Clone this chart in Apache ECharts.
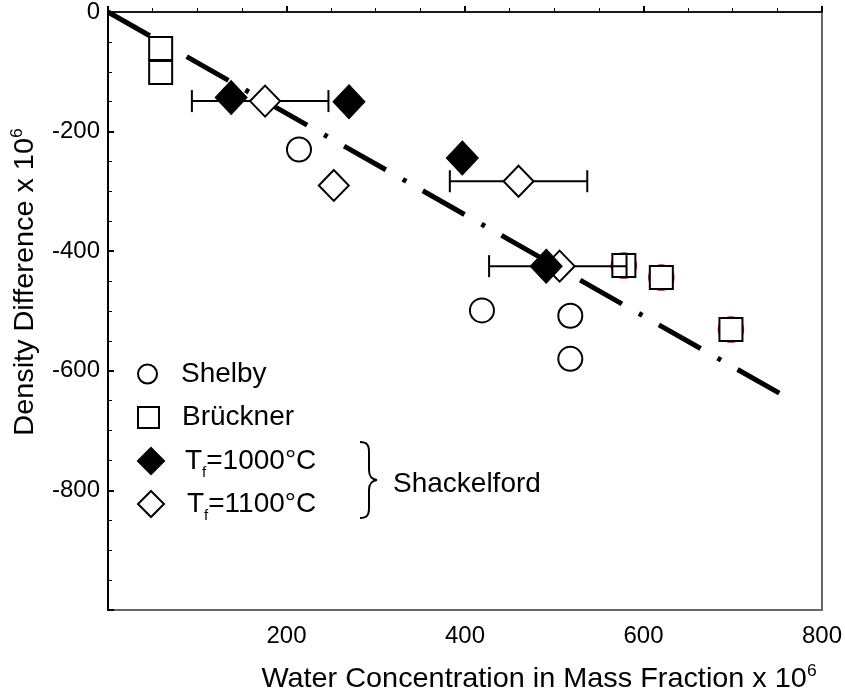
<!DOCTYPE html>
<html>
<head>
<meta charset="utf-8">
<script src="https://cdn.jsdelivr.net/npm/echarts@6/dist/echarts.min.js"></script>
<style>
  html, body { margin: 0; padding: 0; background: #fff; }
  #chart { width: 845px; height: 698px; }
</style>
</head>
<body>
<div id="chart"></div>
<script>
// data
const trendX = [0, 767];
const trendY = [0, -650];

const shelbyX = [214, 419, 518, 518];
const shelbyY = [-230, -499, -508, -580];

const brucknerX = [59, 59, 578, 620, 698];
const brucknerY = [-61, -101, -424, -444, -531];

// faint red circles showing behind three of the squares
const redX = [578, 620, 698];
const redY = [-424, -444, -531];

const tf1000X = [138, 270, 397, 491];
const tf1000Y = [-143, -150, -244, -425];

const tf1100X = [176, 253, 460, 506];
const tf1100Y = [-149, -290, -283, -425];

// horizontal error bars on the Tf=1100 points
const errY = [-149, -283, -425];
const errLow = [94, 383, 427];
const errHigh = [247, 537, 581];

const xTicks = [0, 800, 200];
const yTicks = [-1000, 0, 200];

const FONT = "Arial, 'Liberation Sans', Helvetica, sans-serif";

function zip(xs, ys) {
  return xs.map((x, i) => [x, ys[i]]);
}

const chart = echarts.init(document.getElementById("chart"));

const subRich = {
  sub: { fontSize: 15, fontFamily: FONT, color: "#000", verticalAlign: "bottom", lineHeight: 15, padding: [0, 0, -5, 0] },
};

function legendItem(name, left, top, size, pad) {
  return {
    data: [name],
    orient: "vertical",
    left: left,
    top: top,
    itemWidth: size,
    itemHeight: size,
    padding: 0,
    selectedMode: false,
    formatter: name.startsWith("T_f")
      ? (n) => "T{sub|f}" + n.slice(3)
      : (n) => n,
    textStyle: {
      fontSize: 28,
      fontFamily: FONT,
      color: "#000",
      padding: [0, 0, 0, pad],
      rich: subRich,
    },
  };
}

// curly brace next to the Shackelford entries
const braceStyle = { fill: null, stroke: "#000", lineWidth: 2 };
const brace = [
  { type: "bezierCurve", shape: { x1: 360, y1: 442, cpx1: 367, cpy1: 442, cpx2: 369, cpy2: 445, x2: 369, y2: 452 }, style: braceStyle },
  { type: "line", shape: { x1: 369, y1: 452, x2: 369, y2: 470 }, style: braceStyle },
  { type: "bezierCurve", shape: { x1: 369, y1: 470, cpx1: 369, cpy1: 476, cpx2: 371, cpy2: 479, x2: 377, y2: 480 }, style: braceStyle },
  { type: "bezierCurve", shape: { x1: 377, y1: 480, cpx1: 371, cpy1: 481, cpx2: 369, cpy2: 484, x2: 369, y2: 490 }, style: braceStyle },
  { type: "line", shape: { x1: 369, y1: 490, x2: 369, y2: 508 }, style: braceStyle },
  { type: "bezierCurve", shape: { x1: 369, y1: 508, cpx1: 369, cpy1: 515, cpx2: 367, cpy2: 518, x2: 360, y2: 518 }, style: braceStyle },
];

const titleRich = {
  a: { fontSize: 28, fontFamily: FONT, fill: "#000" },
  s: { fontSize: 17, fontFamily: FONT, fill: "#000", verticalAlign: "top", padding: [0, 0, 16, 0] },
};

const option = {
  animation: false,
  backgroundColor: "#fff",
  grid: {
    left: 108,
    top: 7,
    right: 19,
    bottom: 88,
    show: true,
    borderColor: "#666",
    borderWidth: 2,
  },
  xAxis: {
    type: "value",
    min: xTicks[0],
    max: xTicks[1],
    interval: xTicks[2],
    axisLine: { lineStyle: { color: "#000", width: 1.5 } },
    axisTick: { inside: true, length: 6, lineStyle: { color: "#000", width: 2 } },
    minorTick: { show: true, splitNumber: 4, length: 4, lineStyle: { color: "#000", width: 1 } },
    axisLabel: { showMinLabel: false, margin: 14, fontSize: 24, fontFamily: FONT, color: "#000" },
    splitLine: { show: false },
  },
  yAxis: {
    type: "value",
    min: yTicks[0],
    max: yTicks[1],
    interval: yTicks[2],
    axisLine: { lineStyle: { color: "#000", width: 2 } },
    axisTick: { inside: true, length: 6, lineStyle: { color: "#000", width: 2 } },
    minorTick: { show: true, splitNumber: 4, length: 4, lineStyle: { color: "#000", width: 1 } },
    axisLabel: { showMinLabel: false, margin: 8, fontSize: 24, fontFamily: FONT, color: "#000" },
    splitLine: { show: false },
  },
  legend: [
    legendItem("Shelby", 137, 360, 19, 19),
    legendItem("Brückner", 137, 403.5, 21, 18),
    legendItem("T_f=1000°C", 137, 447, 26, 16),
    legendItem("T_f=1100°C", 137, 490, 26, 18),
  ],
  graphic: [
    {
      type: "text",
      x: 539,
      y: 679,
      scaleX: 1.03,
      style: {
        text: "{a|Water Concentration in Mass Fraction x 10}{s|6}",
        align: "center",
        verticalAlign: "middle",
        rich: titleRich,
      },
    },
    {
      type: "text",
      x: 25,
      y: 282,
      rotation: Math.PI / 2,
      scaleX: 1.03,
      style: {
        text: "{a|Density Difference x 10}{s|6}",
        align: "center",
        verticalAlign: "middle",
        rich: titleRich,
      },
    },
    ...brace,
    {
      type: "text",
      x: 393,
      y: 484,
      style: {
        text: "Shackelford",
        fontSize: 28,
        fontFamily: FONT,
        fill: "#000",
        verticalAlign: "middle",
      },
    },
  ],
  series: [
    {
      name: "trend",
      type: "line",
      data: zip(trendX, trendY),
      symbol: "none",
      z: 1,
      lineStyle: { color: "#000", width: 5, type: [48, 19.5, 4, 19], cap: "butt" },
    },
    {
      name: "red",
      type: "scatter",
      data: zip(redX, redY),
      symbol: "circle",
      symbolSize: 25,
      z: 2,
      itemStyle: { color: "#fff", borderColor: "#e00", borderWidth: 1.5, opacity: 1 },
    },
    {
      name: "Brückner",
      type: "scatter",
      data: zip(brucknerX, brucknerY),
      symbol: "rect",
      symbolSize: 23,
      z: 3,
      itemStyle: { color: "#fff", borderColor: "#000", borderWidth: 2, opacity: 1 },
    },
    {
      name: "errors",
      type: "custom",
      z: 4,
      data: errY.map((y, i) => [errLow[i], errHigh[i], y]),
      renderItem: function (params, api) {
        const a = api.coord([api.value(0), api.value(2)]);
        const b = api.coord([api.value(1), api.value(2)]);
        const h = 11;
        const st = { stroke: "#000", lineWidth: 2 };
        return {
          type: "group",
          children: [
            { type: "line", shape: { x1: a[0], y1: a[1], x2: b[0], y2: b[1] }, style: st },
            { type: "line", shape: { x1: a[0], y1: a[1] - h, x2: a[0], y2: a[1] + h }, style: st },
            { type: "line", shape: { x1: b[0], y1: b[1] - h, x2: b[0], y2: b[1] + h }, style: st },
          ],
        };
      },
    },
    {
      name: "T_f=1100°C",
      type: "scatter",
      data: zip(tf1100X, tf1100Y),
      symbol: "diamond",
      symbolSize: [30, 31],
      z: 5,
      itemStyle: { color: "#fff", borderColor: "#000", borderWidth: 2, opacity: 1 },
    },
    {
      name: "T_f=1000°C",
      type: "scatter",
      data: zip(tf1000X, tf1000Y),
      symbol: "diamond",
      symbolSize: [32, 34],
      z: 6,
      itemStyle: { color: "#000", borderColor: "#000", borderWidth: 1, opacity: 1 },
    },
    {
      name: "Shelby",
      type: "scatter",
      data: zip(shelbyX, shelbyY),
      symbol: "circle",
      symbolSize: 24,
      z: 7,
      itemStyle: { color: "#fff", borderColor: "#000", borderWidth: 2, opacity: 1 },
    },
  ],
};

chart.setOption(option);
</script>
</body>
</html>
